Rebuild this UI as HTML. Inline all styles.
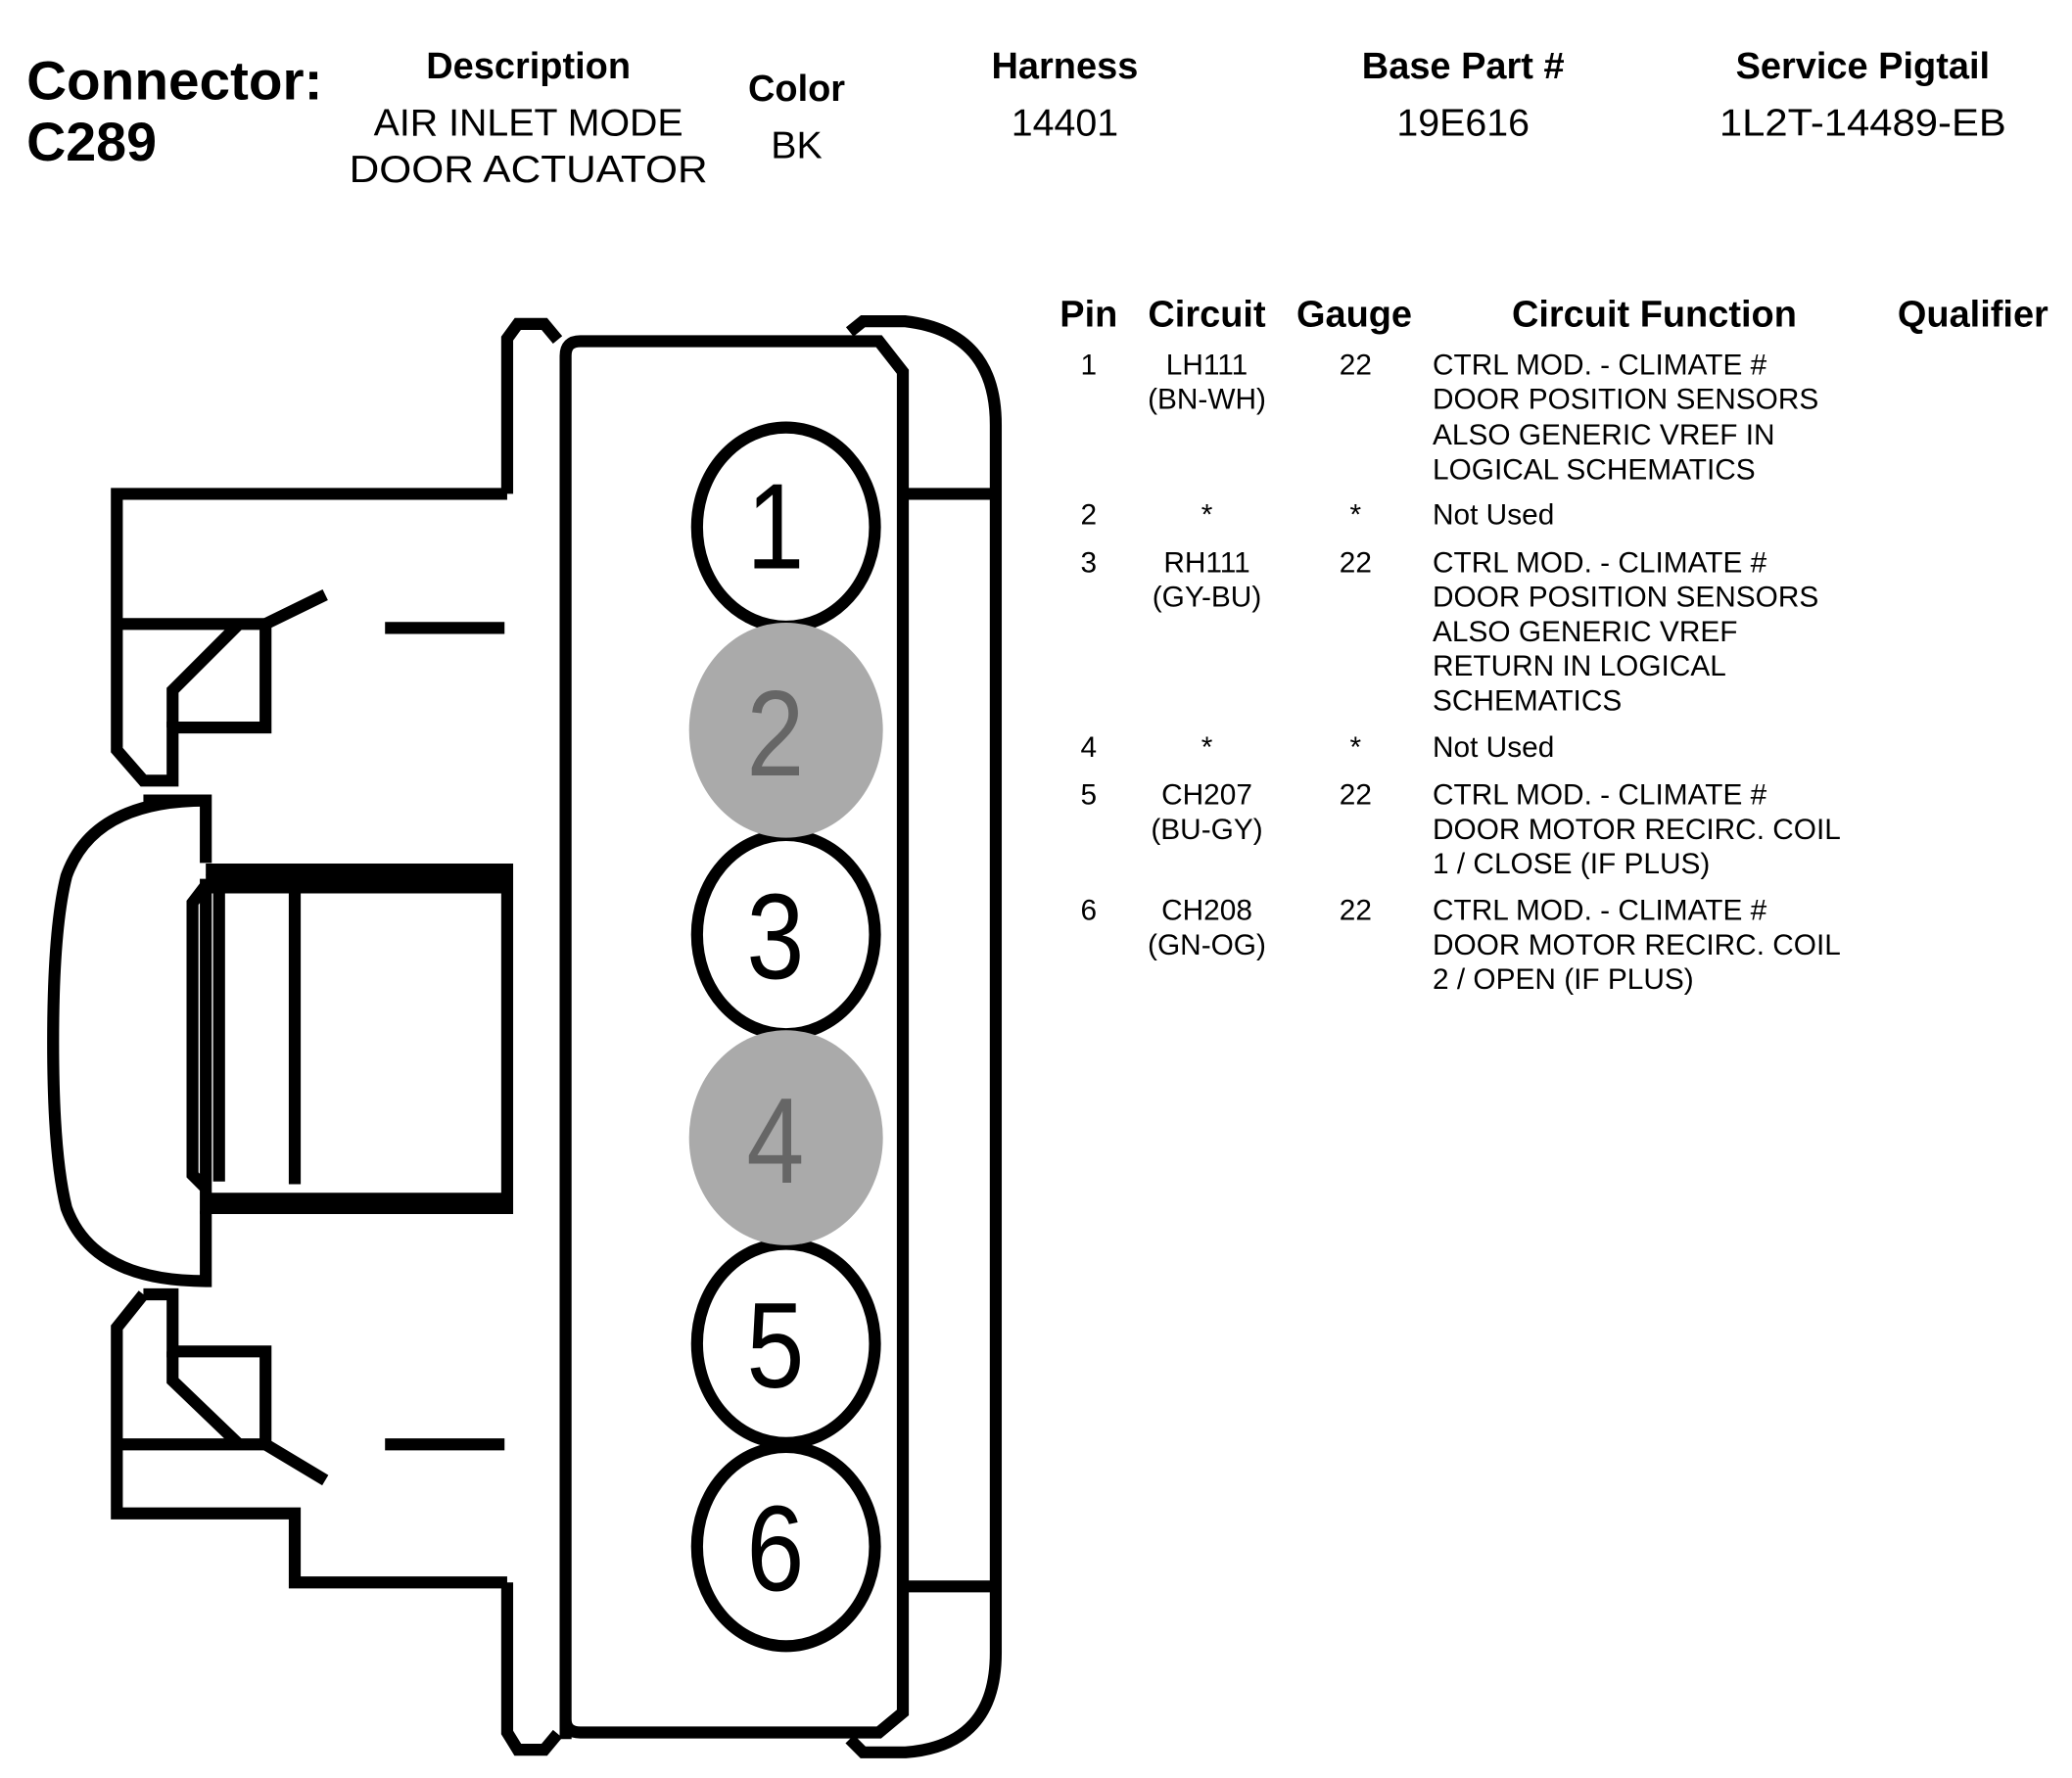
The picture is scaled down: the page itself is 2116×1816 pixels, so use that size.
<!DOCTYPE html>
<html><head><meta charset="utf-8"><style>
html,body{margin:0;padding:0;background:#fff;}
svg{display:block}
text{font-family:"Liberation Sans",Arial,sans-serif;}
</style></head><body>
<svg width="2116" height="1816" viewBox="0 0 1560.6 1339.3" xmlns="http://www.w3.org/2000/svg">
<g fill="#000">
<text x="20" y="75" font-size="41" font-weight="bold" textLength="223" lengthAdjust="spacingAndGlyphs">Connector:</text>
<text x="20" y="121" font-size="41" font-weight="bold">C289</text>
<g text-anchor="middle">
<text x="398" y="59" font-size="28" font-weight="bold">Description</text>
<text x="398" y="102" font-size="29">AIR INLET MODE</text>
<text x="398" y="137" font-size="29" textLength="270" lengthAdjust="spacingAndGlyphs">DOOR ACTUATOR</text>
<text x="600" y="76" font-size="28" font-weight="bold">Color</text>
<text x="600" y="119" font-size="29">BK</text>
<text x="802" y="59" font-size="28" font-weight="bold">Harness</text>
<text x="802" y="102" font-size="29">14401</text>
<text x="1102" y="59" font-size="28" font-weight="bold">Base Part #</text>
<text x="1102" y="102" font-size="29">19E616</text>
<text x="1403" y="59" font-size="28" font-weight="bold">Service Pigtail</text>
<text x="1403" y="102" font-size="29" textLength="216" lengthAdjust="spacingAndGlyphs">1L2T-14489-EB</text>

<text x="820" y="246" font-size="28" font-weight="bold">Pin</text>
<text x="909" y="246" font-size="28" font-weight="bold">Circuit</text>
<text x="1020" y="246" font-size="28" font-weight="bold">Gauge</text>
<text x="1246" y="246" font-size="28" font-weight="bold">Circuit Function</text>
<text x="1486" y="246" font-size="28" font-weight="bold">Qualifier</text>
</g>
<g font-size="22">
<g text-anchor="middle">
<text x="820" y="282">1</text><text x="909" y="282">LH111</text><text x="909" y="308">(BN-WH)</text><text x="1021" y="282">22</text>
<text x="820" y="395">2</text><text x="909" y="395">*</text><text x="1021" y="395">*</text>
<text x="820" y="431">3</text><text x="909" y="431">RH111</text><text x="909" y="457">(GY-BU)</text><text x="1021" y="431">22</text>
<text x="820" y="570">4</text><text x="909" y="570">*</text><text x="1021" y="570">*</text>
<text x="820" y="606">5</text><text x="909" y="606">CH207</text><text x="909" y="632">(BU-GY)</text><text x="1021" y="606">22</text>
<text x="820" y="693">6</text><text x="909" y="693">CH208</text><text x="909" y="719">(GN-OG)</text><text x="1021" y="693">22</text>
</g>
<text x="1079" y="282">CTRL MOD. - CLIMATE #</text>
<text x="1079" y="308">DOOR POSITION SENSORS</text>
<text x="1079" y="335">ALSO GENERIC VREF IN</text>
<text x="1079" y="361">LOGICAL SCHEMATICS</text>
<text x="1079" y="395">Not Used</text>
<text x="1079" y="431">CTRL MOD. - CLIMATE #</text>
<text x="1079" y="457">DOOR POSITION SENSORS</text>
<text x="1079" y="483">ALSO GENERIC VREF</text>
<text x="1079" y="509">RETURN IN LOGICAL</text>
<text x="1079" y="535">SCHEMATICS</text>
<text x="1079" y="570">Not Used</text>
<text x="1079" y="606">CTRL MOD. - CLIMATE #</text>
<text x="1079" y="632">DOOR MOTOR RECIRC. COIL</text>
<text x="1079" y="658">1 / CLOSE (IF PLUS)</text>
<text x="1079" y="693">CTRL MOD. - CLIMATE #</text>
<text x="1079" y="719">DOOR MOTOR RECIRC. COIL</text>
<text x="1079" y="745">2 / OPEN (IF PLUS)</text>
</g>
</g>

<g fill="none" stroke="#000" stroke-width="9">
<path d="M426 1310 V268 Q426 257 437 257 H662 L680 280 V1290 L662 1305 H437 Q426 1305 426 1295"/>
<path d="M382 372 V255 L390 244 H410 L420 256"/>
<path d="M382 1192 V1305 L390 1318 H410 L420 1306"/>
<path d="M640 250 L650 242 H682 Q750 250 750 320 V1245 Q750 1315 682 1320 H650 L640 1310"/>
<path d="M680 372 H747 M680 1195 H747"/>
<path d="M382 372 H88 V565 L108 588 H130 V548 H200 V470 L245 448"/>
<path d="M88 470 H200"/>
<path d="M130 548 V520 L180 470"/>
<path d="M290 473 H380"/>
<path d="M108 603 H155 V650 M155 603 Q70 603 50 660 Q40 700 40 785 Q40 870 50 910 Q70 965 155 965 V912"/>
<path d="M155 655 H382 V910 H155 V662"/>
<path d="M155 666 H382" stroke-width="14"/>
<path d="M165 662 V890 M222 668 V892 M155 667 L145 680 V885 L155 895 M155 903 H382"/>
<path d="M108 975 L88 1000 V1140 H222 V1192 H382"/>
<path d="M108 975 H130 V1018 H200 V1088 L245 1115"/>
<path d="M88 1088 H200"/>
<path d="M130 1018 V1040 L180 1088"/>
<path d="M290 1088 H380"/>
</g>

<g stroke="#000" stroke-width="9">
<ellipse cx="592" cy="397" rx="67" ry="75" fill="#fff"/>
<ellipse cx="592" cy="704" rx="67" ry="75" fill="#fff"/>
<ellipse cx="592" cy="1012" rx="67" ry="75" fill="#fff"/>
<ellipse cx="592" cy="1165" rx="67" ry="75" fill="#fff"/>
</g>
<ellipse cx="592" cy="550" rx="73" ry="81" fill="#aaa"/>
<ellipse cx="592" cy="857" rx="73" ry="81" fill="#aaa"/>
<g font-size="92" text-anchor="middle">
<text transform="translate(584 428) scale(0.85 1)" fill="#000">1</text>
<text transform="translate(584 584) scale(0.85 1)" fill="#666">2</text>
<text transform="translate(584 737) scale(0.85 1)" fill="#000">3</text>
<text transform="translate(584 891) scale(0.85 1)" fill="#666">4</text>
<text transform="translate(584 1045) scale(0.85 1)" fill="#000">5</text>
<text transform="translate(584 1198) scale(0.85 1)" fill="#000">6</text>
</g>
</svg>
</body></html>
